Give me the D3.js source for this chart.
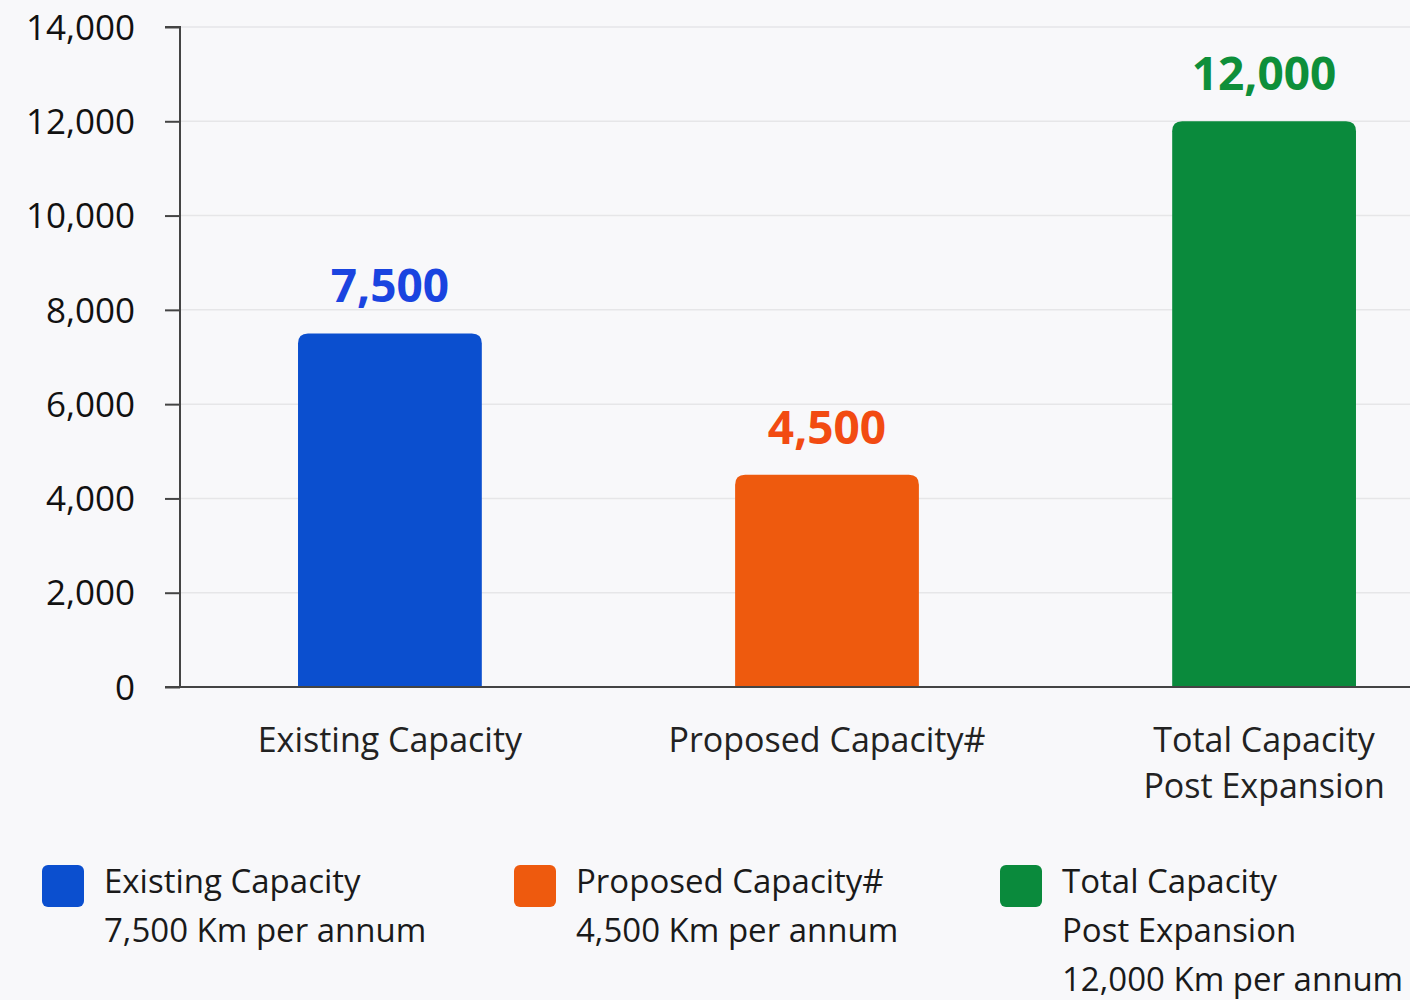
<!DOCTYPE html>
<html><head><meta charset="utf-8">
<script src="https://cdn.jsdelivr.net/npm/d3@7"></script>
<style>html,body{margin:0;padding:0;background:#f8f8fa;}svg{display:block;}</style>
</head><body><svg id="c" width="1410" height="1000"></svg>
<script>
const categories = ["Existing Capacity", "Proposed Capacity#", "Total Capacity Post Expansion"];
const categoryLines = [["Existing Capacity"], ["Proposed Capacity#"], ["Total Capacity", "Post Expansion"]];
const values = [7500, 4500, 12000];
const valueLabels = ["7,500", "4,500", "12,000"];
const yTicks = [0, 2000, 4000, 6000, 8000, 10000, 12000, 14000];
const legendLines = [
  ["Existing Capacity", "7,500 Km per annum"],
  ["Proposed Capacity#", "4,500 Km per annum"],
  ["Total Capacity", "Post Expansion", "12,000 Km per annum"]
];
const barColors = ["#0b4fcf", "#ee5a0e", "#0a8a3c"];
const labelColors = ["#1a44e0", "#f24b12", "#0e8f3a"];

const svg = d3.select("#c");
const font = "'Open Sans', sans-serif";
const x0 = 180, yBottom = 687, yTop = 27;
const y = d3.scaleLinear().domain([0, 14000]).range([yBottom, yTop]);
const x = d3.scaleBand().domain(categories).range([x0, 1474]).paddingInner(0.5795).paddingOuter(0.27);

// gridlines
svg.append("g").selectAll("line").data(yTicks.filter(d => d > 0)).join("line")
  .attr("x1", x0).attr("x2", 1410).attr("y1", d => y(d)).attr("y2", d => y(d))
  .attr("stroke", "#e6e6e8").attr("stroke-width", 1.5);

// y axis
const yAxis = d3.axisLeft(y).tickValues(yTicks).tickSize(15).tickPadding(30)
  .tickFormat(d3.format(","));
const ga = svg.append("g").attr("transform", `translate(${x0},0)`).call(yAxis);
ga.select(".domain").attr("stroke", "#444").attr("stroke-width", 2).attr("d", `M-15,${yTop}H0V${yBottom}`);
ga.selectAll(".tick line").attr("stroke", "#444").attr("stroke-width", 2);
ga.selectAll(".tick text").attr("fill", "#111").attr("font-size", 35).attr("font-family", font).attr("dy", "0.35em");

// bars with rounded tops
const r = 10;
svg.append("g").selectAll("path").data(values).join("path")
  .attr("fill", (d, i) => barColors[i])
  .attr("d", (d, i) => {
    const bx = x(categories[i]), bw = x.bandwidth(), by = y(d), b = y(0);
    return `M${bx},${b}V${by + r}Q${bx},${by} ${bx + r},${by}H${bx + bw - r}Q${bx + bw},${by} ${bx + bw},${by + r}V${b}Z`;
  });

// baseline
svg.append("line").attr("x1", 165).attr("x2", 1410).attr("y1", y(0)).attr("y2", y(0))
  .attr("stroke", "#444").attr("stroke-width", 2);

// value labels
svg.append("g").selectAll("text").data(values).join("text")
  .attr("x", (d, i) => x(categories[i]) + x.bandwidth() / 2)
  .attr("y", d => y(d) - 31)
  .attr("text-anchor", "middle").attr("font-family", font).attr("font-weight", 700)
  .attr("font-size", 46).attr("fill", (d, i) => labelColors[i])
  .text((d, i) => valueLabels[i]);

// category labels
categories.forEach((c, i) => {
  const t = svg.append("text").attr("text-anchor", "middle").attr("font-family", font)
    .attr("font-size", 34).attr("fill", "#222")
    .attr("x", x(c) + x.bandwidth() / 2).attr("y", 752);
  categoryLines[i].forEach((ln, j) => t.append("tspan").attr("x", x(c) + x.bandwidth() / 2).attr("dy", j ? 46 : 0).text(ln));
});

// legend
const legX = [42, 514, 1000];
legendLines.forEach((lines, i) => {
  const g = svg.append("g").attr("transform", `translate(${legX[i]},865)`);
  g.append("rect").attr("width", 42).attr("height", 42).attr("rx", 6).attr("fill", barColors[i]);
  const t = g.append("text").attr("font-family", font).attr("font-size", 33).attr("fill", "#1a1a1a");
  lines.forEach((ln, j) => t.append("tspan").attr("x", 62).attr("y", 28 + j * 49).text(ln));
});
</script></body></html>
